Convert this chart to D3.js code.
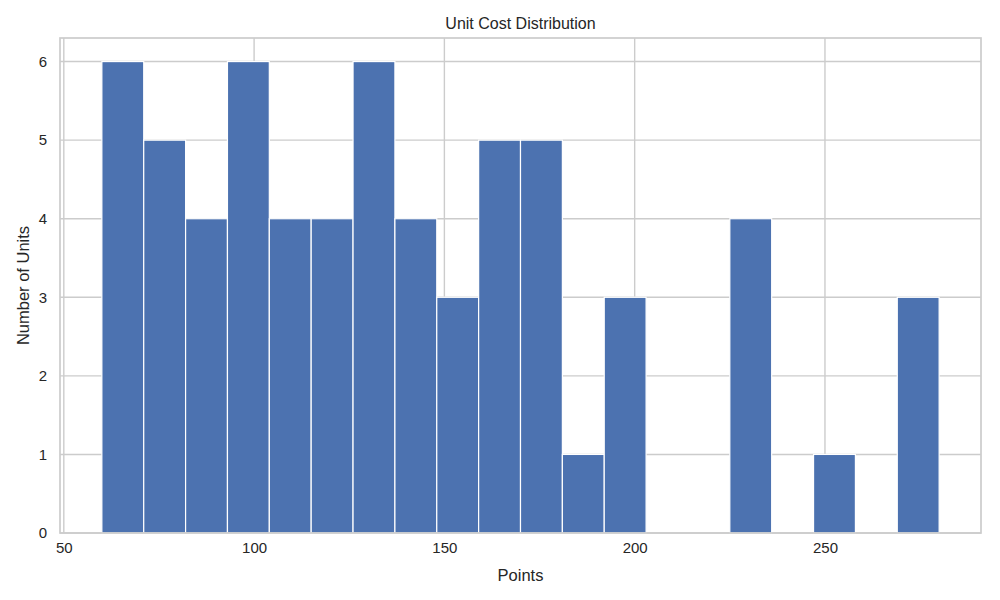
<!DOCTYPE html>
<html>
<head>
<meta charset="utf-8">
<script src="https://cdn.jsdelivr.net/npm/d3@7"></script>
<style>
  body { margin: 0; background: #fff; }
  text { font-family: "Liberation Sans", Arial, sans-serif; fill: #262626; }
</style>
</head>
<body>
<main></main>
<script>
// Histogram bins (edges) and counts
const binEdges = [60, 71, 82, 93, 104, 115, 126, 137, 148, 159, 170, 181, 192, 203, 214, 225, 236, 247, 258, 269, 280];
const counts = [6, 5, 4, 6, 4, 4, 6, 4, 3, 5, 5, 1, 3, 0, 0, 4, 0, 1, 0, 3];
const xTicks = [50, 100, 150, 200, 250];
const yTicks = [0, 1, 2, 3, 4, 5, 6];

const width = 1000, height = 600;
const margin = {top: 38, right: 19, bottom: 67, left: 60};

const svg = d3.select('main').append('svg')
    .attr('width', width)
    .attr('height', height);

const bins = counts.map((c, i) => ({x0: binEdges[i], x1: binEdges[i + 1], count: c}));

const x = d3.scaleLinear()
    .domain([49, 291])
    .range([margin.left, width - margin.right]);

const y = d3.scaleLinear()
    .domain([0, 6.3])
    .range([height - margin.bottom, margin.top]);

// Grid lines
svg.append('g')
    .selectAll('line')
    .data(xTicks)
    .enter()
    .append('line')
    .attr('x1', d => x(d)).attr('x2', d => x(d))
    .attr('y1', margin.top).attr('y2', height - margin.bottom)
    .attr('stroke', '#cccccc')
    .attr('stroke-width', 1.4);

svg.append('g')
    .selectAll('line')
    .data(yTicks)
    .enter()
    .append('line')
    .attr('x1', margin.left).attr('x2', width - margin.right)
    .attr('y1', d => y(d)).attr('y2', d => y(d))
    .attr('stroke', '#cccccc')
    .attr('stroke-width', 1.4);

// Bars
svg.append('g')
    .selectAll('rect')
    .data(bins.filter(b => b.count > 0))
    .enter()
    .append('rect')
    .attr('x', d => x(d.x0))
    .attr('width', d => x(d.x1) - x(d.x0))
    .attr('y', d => y(d.count))
    .attr('height', d => y(0) - y(d.count))
    .attr('fill', '#4c72b0')
    .attr('stroke', '#ffffff')
    .attr('stroke-width', 1.2);

// Frame
svg.append('rect')
    .attr('x', margin.left)
    .attr('y', margin.top)
    .attr('width', width - margin.left - margin.right)
    .attr('height', height - margin.top - margin.bottom)
    .attr('fill', 'none')
    .attr('stroke', '#cccccc')
    .attr('stroke-width', 1.7);

// Axes (tick labels only, no tick marks)
const xAxis = svg.append('g')
    .attr('transform', `translate(0,${height - margin.bottom})`)
    .call(d3.axisBottom(x).tickValues(xTicks).tickFormat(d3.format('d')).tickSize(0).tickPadding(9));
const yAxis = svg.append('g')
    .attr('transform', `translate(${margin.left},0)`)
    .call(d3.axisLeft(y).tickValues(yTicks).tickFormat(d3.format('d')).tickSize(0).tickPadding(13));

[xAxis, yAxis].forEach(a => {
    a.select('.domain').remove();
    a.selectAll('text')
        .attr('font-family', '"Liberation Sans", Arial, sans-serif')
        .attr('font-size', 15)
        .attr('fill', '#262626');
});

// Title and labels
svg.append('text')
    .attr('x', (margin.left + width - margin.right) / 2)
    .attr('y', 29)
    .attr('text-anchor', 'middle')
    .attr('font-size', 16)
    .text('Unit Cost Distribution');

svg.append('text')
    .attr('x', (margin.left + width - margin.right) / 2)
    .attr('y', 581)
    .attr('text-anchor', 'middle')
    .attr('font-size', 16.5)
    .text('Points');

svg.append('text')
    .attr('transform', `translate(29,${(margin.top + height - margin.bottom) / 2}) rotate(-90)`)
    .attr('text-anchor', 'middle')
    .attr('font-size', 16.5)
    .text('Number of Units');
</script>
</body>
</html>
